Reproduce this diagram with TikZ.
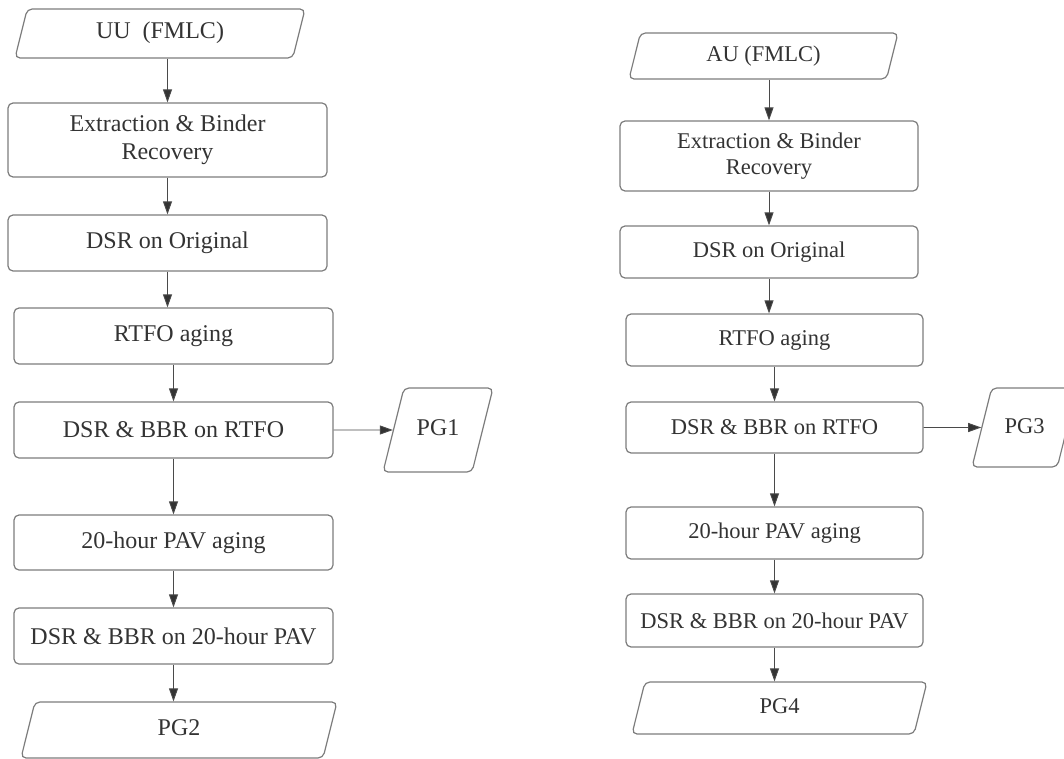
\documentclass[tikz,border=0pt]{standalone}
\usepackage{fontspec}
\setmainfont{Liberation Serif}
\usetikzlibrary{arrows.meta,shapes.geometric}
\definecolor{edgegray}{HTML}{7C7C7C}
\definecolor{linkgray}{HTML}{4A4A4A}
\definecolor{inkgray}{HTML}{333333}
\tikzset{
  base/.style={draw=edgegray, line width=1.2pt, rounded corners=5pt,
    text=inkgray, inner sep=0pt, align=center},
  stepbox/.style={base, rectangle},
  % slanted input/output box; its height comes from inner ysep so the
  % side slant follows the full height
  iobox/.style={base, trapezium, trapezium left angle=76,
    trapezium right angle=104, trapezium stretches body,
    text height=16pt, text depth=5pt},
  bigtxt/.style={font=\fontsize{24}{27.5}\selectfont},
  smalltxt/.style={font=\fontsize{22.5}{26}\selectfont},
  link/.style={draw=linkgray, line width=0.9pt,
    -{Triangle[length=13pt,width=9pt,fill=inkgray]}},
}
\begin{document}
\begin{tikzpicture}[x=1pt, y=-1pt]
\useasboundingbox (0,0) rectangle (1064,759);

% left flow
\node[iobox, bigtxt, minimum width=290, inner ysep=14pt] (uu) at (160,33.5) {UU\ \ (FMLC)};
\node[stepbox, bigtxt, minimum width=319, minimum height=74] (ext1) at (167.5,140) {Extraction \& Binder\\Recovery};
\node[stepbox, bigtxt, minimum width=319, minimum height=56] (dsr1) at (167.5,243) {DSR on Original};
\node[stepbox, bigtxt, minimum width=319, minimum height=56] (rtfo1) at (173.5,336) {RTFO aging};
\node[stepbox, bigtxt, minimum width=319, minimum height=56] (bbr1) at (173.5,430) {DSR \& BBR on RTFO};
\node[stepbox, bigtxt, minimum width=319, minimum height=55] (pav1) at (173.5,542.5) {20-hour PAV aging};
\node[stepbox, bigtxt, minimum width=319, minimum height=56] (bbrpav1) at (173.5,636) {DSR \& BBR on 20-hour PAV};
\node[iobox, bigtxt, minimum width=316, inner ysep=17.5pt] (pg2) at (179,730) {PG2};
\node[iobox, bigtxt, minimum width=110, inner ysep=31.5pt] (pg1) at (438,430) {PG1};

\draw[link] (uu.south -| ext1.north) -- (ext1.north);
\draw[link] (ext1.south) -- (ext1.south |- dsr1.north);
\draw[link] (dsr1.south) -- (dsr1.south |- rtfo1.north);
\draw[link] (rtfo1.south) -- (rtfo1.south |- bbr1.north);
\draw[link] (bbr1.south) -- (bbr1.south |- pav1.north);
\draw[link] (pav1.south) -- (pav1.south |- bbrpav1.north);
\draw[link] (bbrpav1.south) -- (bbrpav1.south |- pg2.north);
\draw[link] (bbr1.east) -- (pg1.west);

% right flow
\node[iobox, smalltxt, minimum width=269, inner ysep=12.5pt] (au) at (763.5,56) {AU (FMLC)};
\node[stepbox, smalltxt, minimum width=298, minimum height=70] (ext2) at (769,156) {Extraction \& Binder\\Recovery};
\node[stepbox, smalltxt, minimum width=298, minimum height=52] (dsr2) at (769,252) {DSR on Original};
\node[stepbox, smalltxt, minimum width=297, minimum height=52] (rtfo2) at (774.5,340) {RTFO aging};
\node[stepbox, smalltxt, minimum width=297, minimum height=51] (bbr2) at (774.5,427.5) {DSR \& BBR on RTFO};
\node[stepbox, smalltxt, minimum width=297, minimum height=52] (pav2) at (774.5,533) {20-hour PAV aging};
\node[stepbox, smalltxt, minimum width=297, minimum height=53] (bbrpav2) at (774.5,620.5) {DSR \& BBR on 20-hour PAV};
\node[iobox, smalltxt, minimum width=295, inner ysep=15.5pt] (pg4) at (779.5,708) {PG4};
\node[iobox, smalltxt, minimum width=105, inner ysep=29pt] (pg3) at (1024.5,427.5) {PG3};

\draw[link] (au.south -| ext2.north) -- (ext2.north);
\draw[link] (ext2.south) -- (ext2.south |- dsr2.north);
\draw[link] (dsr2.south) -- (dsr2.south |- rtfo2.north);
\draw[link] (rtfo2.south) -- (rtfo2.south |- bbr2.north);
\draw[link] (bbr2.south) -- (bbr2.south |- pav2.north);
\draw[link] (pav2.south) -- (pav2.south |- bbrpav2.north);
\draw[link] (bbrpav2.south) -- (bbrpav2.south |- pg4.north);
\draw[link] (bbr2.east) -- (pg3.west);
\end{tikzpicture}
\end{document}
